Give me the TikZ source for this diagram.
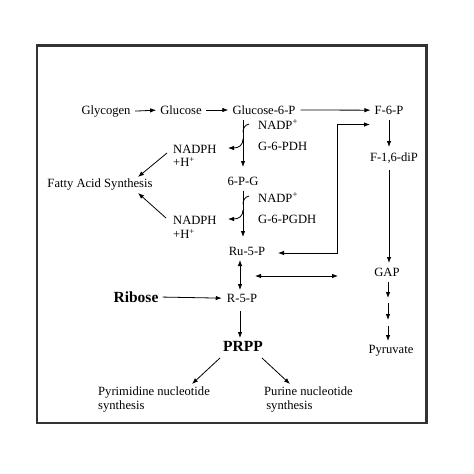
\documentclass[tikz,border=0pt]{standalone}
\usepackage{fontspec}
\setmainfont{Liberation Serif}
\usetikzlibrary{arrows.meta}
\begin{document}
\begin{tikzpicture}[x=1pt,y=-1pt,
  lbl/.style={inner sep=0pt,font=\fontsize{12.6}{13}\selectfont},
  big/.style={inner sep=0pt,font=\fontsize{15.5}{16}\selectfont\bfseries},
  arr/.style={line width=0.8pt,-{Latex[length=6pt,width=4.5pt]}},
  darr/.style={line width=0.8pt,{Latex[length=6pt,width=4.5pt]}-{Latex[length=6pt,width=4.5pt]}},
  ln/.style={line width=0.8pt}]
\useasboundingbox (0,0) rectangle (474,474);
\fill[white] (0,0) rectangle (474,474);
\draw[line width=2.6pt,black!80] (37,45.5) rectangle (426.5,423);

% nodes
\node[lbl,anchor=mid] (glycogen) at (106,112) {Glycogen};
\node[lbl,anchor=mid] (glucose) at (181,112) {Glucose};
\node[lbl,anchor=mid] (g6p) at (264,112) {Glucose-6-P};
\node[lbl,anchor=mid] (f6p) at (389,112) {F-6-P};
\node[lbl,anchor=mid west] (nadp1) at (258,127) {NADP\textsuperscript{+}};
\node[lbl,anchor=mid west] (g6pdh) at (258,148) {G-6-PDH};
\node[lbl,anchor=west,align=left] (nadph1) at (173,156) {NADPH\\[0.5pt]+H\textsuperscript{+}};
\node[lbl,anchor=mid] (fas) at (100,185) {Fatty Acid Synthesis};
\node[lbl,anchor=mid] (pg) at (243,183) {6-P-G};
\node[lbl,anchor=mid west] (nadp2) at (258,200) {NADP\textsuperscript{+}};
\node[lbl,anchor=mid west] (g6pgdh) at (258,221) {G-6-PGDH};
\node[lbl,anchor=west,align=left] (nadph2) at (173,227.5) {NADPH\\[0.5pt]+H\textsuperscript{+}};
\node[lbl,anchor=mid] (f16) at (394,159) {F-1,6-diP};
\node[lbl,anchor=mid] (ru5p) at (247,253) {Ru-5-P};
\node[lbl,anchor=mid] (gap) at (387,274) {GAP};
\node[big,anchor=mid] (ribose) at (136,300) {Ribose};
\node[lbl,anchor=mid] (r5p) at (242,300) {R-5-P};
\node[big,anchor=mid] (prpp) at (243,349) {PRPP};
\node[lbl,anchor=mid] (pyr) at (391,351) {Pyruvate};
\node[lbl,anchor=north west,align=left] (pyrim) at (98,387) {Pyrimidine nucleotide\\[1pt]synthesis};
\node[lbl,anchor=north west,align=left] (purine) at (264,387) {Purine nucleotide\\[1pt]\,synthesis};

% top row
\draw[arr,shorten <=4.5pt,shorten >=4pt] (glycogen.east) -- (glucose.west);
\draw[arr,shorten <=4.5pt,shorten >=4pt] (glucose.east) -- (g6p.west);
\draw[arr,shorten <=5pt,shorten >=4pt] (g6p.east) -- (f6p.west);

% oxidative branch
\draw[arr] (pg.north |- 0,120) -- (pg.north |- 0,167);
\coordinate (h1a) at (249,124);
\coordinate (h1b) at (243,132);
\draw[ln] (h1a) .. controls (245,125) and (243,128) .. (h1b);
\coordinate (o1a) at (243,139);
\coordinate (o1b) at (228,148);
\draw[arr] (o1a) .. controls (243,145) and (239,148) .. (o1b);

\draw[arr] (pg.south |- 0,191) -- (pg.south |- 0,237);
\coordinate (h2a) at (249,196);
\coordinate (h2b) at (243,204);
\draw[ln] (h2a) .. controls (245,197) and (243,200) .. (h2b);
\coordinate (o2a) at (243,210);
\coordinate (o2b) at (228,219);
\draw[arr] (o2a) .. controls (243,216) and (239,219) .. (o2b);

\coordinate (n1s) at (167,153);
\coordinate (n1e) at (138,177);
\draw[arr] (n1s) -- (n1e);
\coordinate (n2s) at (166,218);
\coordinate (n2e) at (138,193);
\draw[arr] (n2s) -- (n2e);

% glycolysis
\draw[arr] (389,120) -- (389,147);
\draw[arr] (389,170) -- (389,263);
\draw[arr] (388,282) -- (388,298);
\draw[arr] (388,303) -- (388,320);
\draw[arr] (388,326) -- (388,341);

% return path F-6-P <-> Ru-5-P
\coordinate (rp1) at (278,253);
\coordinate (rp2) at (370,124.5);
\draw[darr] (rp1) -- (337.5,253) -- (337.5,124.5) -- (rp2);

% Ru-5-P <-> R-5-P and horizontal
\draw[darr] (240,260) -- (240,290);
\coordinate (hx1) at (255,276);
\coordinate (hx2) at (338,276);
\draw[darr] (hx1) -- (hx2);

% ribose
\draw[arr,shorten <=4pt,shorten >=5pt] (ribose.east) -- (r5p.west);
\draw[arr] (240,311) -- (240,338);

% PRPP branches
\coordinate (p1s) at (220,358);
\coordinate (p1e) at (192,384);
\coordinate (p2s) at (262,358);
\coordinate (p2e) at (290,384);
\draw[arr] (p1s) -- (p1e);
\draw[arr] (p2s) -- (p2e);
\end{tikzpicture}
\end{document}
